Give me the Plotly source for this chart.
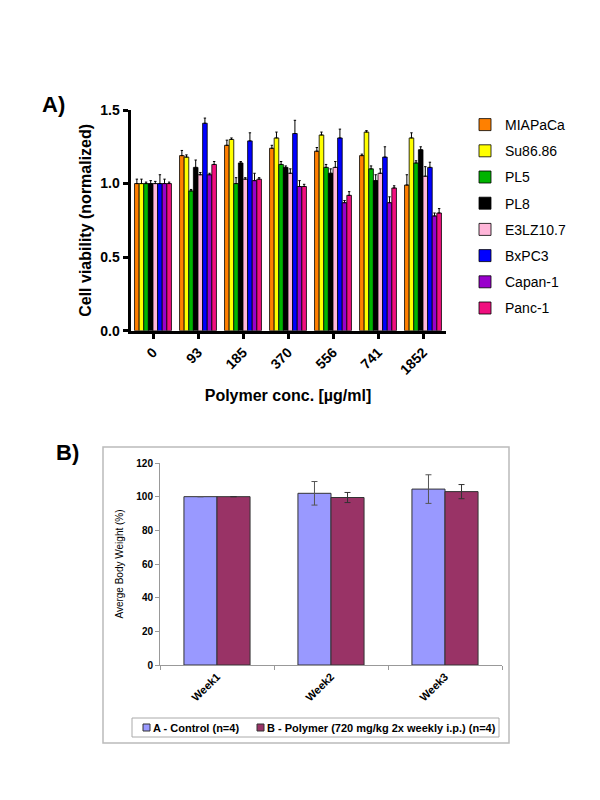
import plotly.graph_objects as go

# ---------------- Panel A data ----------------
concs = ["0", "93", "185", "370", "556", "741", "1852"]
cell_lines = ["MIAPaCa", "Su86.86", "PL5", "PL8", "E3LZ10.7", "BxPC3", "Capan-1", "Panc-1"]
colors_a = ["#FF8000", "#FFFF00", "#00B400", "#000000", "#FFB6D9", "#0000FF", "#9900CC", "#F0107F"]

miapaca = [1.00, 1.19, 1.26, 1.24, 1.22, 1.19, 0.99]
su86 = [1.00, 1.18, 1.30, 1.31, 1.33, 1.35, 1.31]
pl5 = [1.00, 0.95, 1.00, 1.13, 1.11, 1.10, 1.14]
pl8 = [1.00, 1.11, 1.14, 1.11, 1.07, 1.02, 1.23]
e3lz = [1.00, 1.06, 1.03, 1.07, 1.11, 1.07, 1.05]
bxpc3 = [1.00, 1.41, 1.29, 1.34, 1.31, 1.18, 1.11]
capan1 = [1.00, 1.06, 1.02, 0.98, 0.87, 0.87, 0.78]
panc1 = [1.00, 1.13, 1.03, 0.98, 0.92, 0.97, 0.80]

miapaca_err = [0.03, 0.035, 0.035, 0.02, 0.025, 0.01, 0.07]
su86_err = [0.03, 0.015, 0.01, 0.04, 0.02, 0.01, 0.035]
pl5_err = [0.01, 0.01, 0.04, 0.02, 0.02, 0.02, 0.015]
pl8_err = [0.02, 0.05, 0.01, 0.01, 0.03, 0.04, 0.02]
e3lz_err = [0.015, 0.015, 0.01, 0.03, 0.04, 0.03, 0.065]
bxpc3_err = [0.06, 0.035, 0.055, 0.09, 0.06, 0.07, 0.035]
capan1_err = [0.03, 0.01, 0.05, 0.04, 0.015, 0.04, 0.02]
panc1_err = [0.01, 0.02, 0.01, 0.015, 0.025, 0.015, 0.03]

series_a = [miapaca, su86, pl5, pl8, e3lz, bxpc3, capan1, panc1]
errors_a = [miapaca_err, su86_err, pl5_err, pl8_err, e3lz_err, bxpc3_err, capan1_err, panc1_err]

# ---------------- Panel B data ----------------
weeks = ["Week1", "Week2", "Week3"]
groups_b = ["A - Control (n=4)", "B - Polymer (720 mg/kg 2x weekly i.p.) (n=4)"]
colors_b = ["#9999FF", "#993366"]
control = [100, 102, 104.5]
control_err = [0, 7, 8.5]
polymer = [100, 99.5, 103]
polymer_err = [0, 3, 4.2]

FONT = "Arial, Liberation Sans, sans-serif"
OFF = 8            # page body margin of the browser
W, H = 584, 784    # figure size so that it fits the 600x800 window


def px_x(p):
    """window pixel x -> paper fraction"""
    return (p - OFF) / W


def px_y(p):
    """window pixel y -> paper fraction"""
    return (H - (p - OFF)) / H


fig = go.Figure()

for name, vals, errs, col in zip(cell_lines, series_a, errors_a, colors_a):
    fig.add_trace(go.Bar(
        x=concs, y=vals, name=name,
        marker=dict(color=col, line=dict(color="#000000", width=0.8)),
        error_y=dict(type="data", array=errs, arrayminus=[0] * len(errs), symmetric=False,
                     color="#000000", thickness=1, width=1.2),
        xaxis="x", yaxis="y", legend="legend", legendgroup=name,
    ))

for gname, vals, errs, col, ecol, off in zip(groups_b, [control, polymer], [control_err, polymer_err],
                                             colors_b, ["#555555", "#333333"], [-0.29, 0.0]):
    fig.add_trace(go.Bar(
        x=weeks, y=vals, name=gname, showlegend=False,
        width=0.29, offset=off,
        marker=dict(color=col, line=dict(color="#333333", width=1)),
        error_y=dict(type="data", array=errs, color=ecol, thickness=1, width=3),
        xaxis="x2", yaxis="y2",
    ))

# manual legend for panel B (small swatches right next to the text, in a box)
shapes = [
    dict(type="rect", xref="paper", yref="paper",
         x0=px_x(103), x1=px_x(509), y0=px_y(743), y1=px_y(447),
         line=dict(color="#BBBBBB", width=1.5), layer="below"),
    dict(type="rect", xref="paper", yref="paper",
         x0=px_x(132), x1=px_x(499), y0=px_y(737), y1=px_y(718),
         line=dict(color="#AAAAAA", width=1), fillcolor="white", layer="below"),
]
annotations = [
    dict(text="A)", x=px_x(40), y=px_y(105), xref="paper", yref="paper",
         xanchor="left", yanchor="middle", showarrow=False,
         font=dict(size=22, weight="bold", family=FONT)),
    dict(text="B)", x=px_x(54), y=px_y(452), xref="paper", yref="paper",
         xanchor="left", yanchor="middle", showarrow=False,
         font=dict(size=22, weight="bold", family=FONT)),
]
leg_x = [143, 257]
for gname, col, lx in zip(groups_b, colors_b, leg_x):
    shapes.append(dict(type="rect", xref="paper", yref="paper",
                       x0=px_x(lx), x1=px_x(lx + 7), y0=px_y(731), y1=px_y(724),
                       line=dict(color="#333333", width=1), fillcolor=col))
    annotations.append(dict(text=gname, x=px_x(lx + 8), y=px_y(727.5), xref="paper", yref="paper",
                            xanchor="left", yanchor="middle", showarrow=False,
                            font=dict(size=11, weight="bold", family=FONT)))

fig.update_layout(
    width=W, height=H,
    margin=dict(l=0, r=0, t=0, b=0),
    paper_bgcolor="white", plot_bgcolor="white",
    font=dict(family=FONT, color="#000000"),
    barmode="group", bargap=0.18, bargroupgap=0.0,
    showlegend=True,
    xaxis=dict(
        domain=[px_x(130.5), px_x(445.5)], anchor="y", automargin=False,
        showline=True, linecolor="#000000", linewidth=3,
        ticks="outside", ticklen=5, tickwidth=3, tickcolor="#000000",
        tickangle=-45, tickfont=dict(size=14, weight="bold", family=FONT),
        title=dict(text="Polymer conc. [µg/ml]", font=dict(size=16, weight="bold", family=FONT), standoff=14),
        showgrid=False,
    ),
    yaxis=dict(
        domain=[px_y(330.7), px_y(110)], anchor="x", automargin=False,
        range=[0, 1.5], tickvals=[0, 0.5, 1.0, 1.5], tickformat=".1f",
        showline=True, linecolor="#000000", linewidth=3,
        ticks="outside", ticklen=5, tickwidth=3, tickcolor="#000000",
        tickfont=dict(size=14, weight="bold", family=FONT),
        title=dict(text="Cell viability (normalized)", font=dict(size=16, weight="bold", family=FONT), standoff=5),
        showgrid=False, zeroline=False,
    ),
    xaxis2=dict(
        domain=[px_x(160), px_x(502)], anchor="y2", automargin=False,
        showline=True, linecolor="#999999", linewidth=1,
        ticks="outside", ticklen=4, tickcolor="#999999", tickson="boundaries",
        tickangle=-45, tickfont=dict(size=11, weight="bold", family=FONT),
        showgrid=False,
    ),
    yaxis2=dict(
        domain=[px_y(665), px_y(463)], anchor="x2", automargin=False,
        range=[0, 120], dtick=20,
        showline=True, linecolor="#999999", linewidth=1,
        ticks="outside", ticklen=4, tickcolor="#999999",
        tickfont=dict(size=10, weight="bold", family=FONT),
        title=dict(text="Averge Body Weight (%)", font=dict(size=10, family=FONT), standoff=10),
        showgrid=False, zeroline=False,
    ),
    legend=dict(
        x=px_x(465), y=px_y(109), xanchor="left", yanchor="top",
        font=dict(size=14, family=FONT), tracegroupgap=5,
        bgcolor="rgba(0,0,0,0)",
    ),
    shapes=shapes,
    annotations=annotations,
)

fig.write_html("out.html")
